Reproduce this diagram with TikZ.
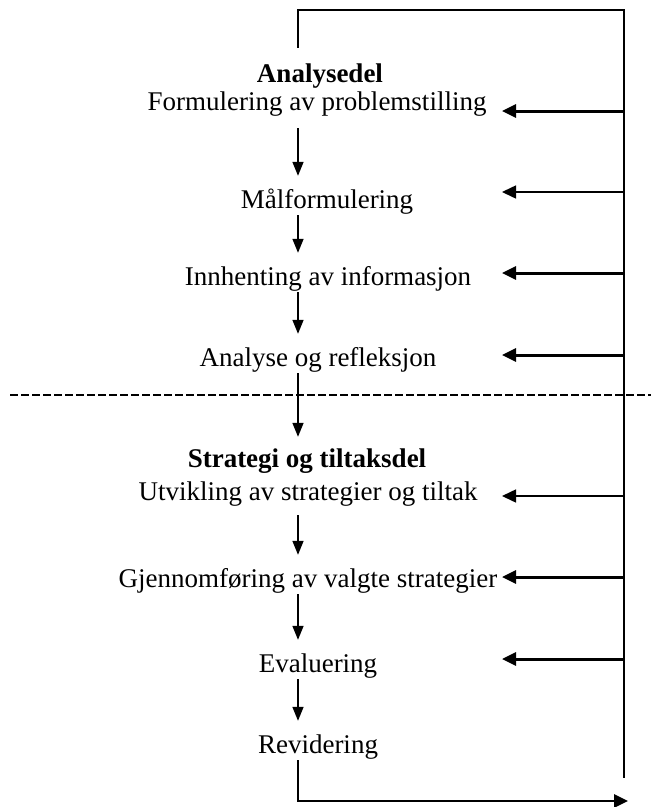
\documentclass[tikz,border=0pt]{standalone}
\usepackage{fontspec}
\setmainfont{Liberation Serif}
\usetikzlibrary{arrows.meta}
\begin{document}
\begin{tikzpicture}[x=1pt,y=-1pt,
  lbl/.style={anchor=base,inner xsep=2pt,inner ysep=1pt,text height=18pt,text depth=6pt,font=\fontsize{27}{30}\selectfont},
  hdr/.style={lbl,font=\fontsize{27}{30}\selectfont\bfseries},
  frame/.style={line width=1.8pt},
  down/.style={line width=1.6pt,-{Triangle[length=14pt,width=11pt]},shorten >=13pt},
  fbthick/.style={line width=3pt,-{Triangle[length=14pt,width=13pt]}},
  fbthin/.style={line width=1.5pt,-{Triangle[length=14pt,width=13pt]}},
  sep/.style={line width=2.6pt,dash pattern=on 8pt off 3pt}]
\useasboundingbox (0,0) rectangle (651,807);
\fill[white] (0,0) rectangle (651,807);
% axis and right line
\coordinate (X) at (298,0);
\coordinate (tr) at (624,10);
\coordinate (br) at (624,778);
\coordinate (out) at (628,801);
% nodes
\node[hdr] (a0) at (320,82) {Analysedel};
\node[lbl] (a1) at (317,110) {Formulering av problemstilling};
\node[lbl] (a2) at (327,208) {Målformulering};
\node[lbl] (a3) at (328,285) {Innhenting av informasjon};
\node[lbl] (a4) at (318,366) {Analyse og refleksjon};
\node[hdr] (s0) at (307,467) {Strategi og tiltaksdel};
\node[lbl] (s1) at (308,500) {Utvikling av strategier og tiltak};
\node[lbl] (s2) at (308,587) {Gjennomføring av valgte strategier};
\node[lbl] (s3) at (318,672) {Evaluering};
\node[lbl] (s4) at (318,753) {Revidering};
% separator
\coordinate (dl) at (10,395);
\coordinate (dr) at (651,395);
\draw[sep] (dl) -- (dr);
% frame
\draw[frame] ([yshift=15pt]a0.north -| X) |- (tr) -- (br);
\draw[line width=2.8pt,-{Triangle[length=14pt,width=13pt]}] (s4.south -| X) |- (out);
% downward arrows
\draw[down,shorten <=11pt] (a1.south -| X) -- (a2.north -| X);
\draw[down] (a2.south -| X) -- (a3.north -| X);
\draw[down] (a3.south -| X) -- (a4.north -| X);
\draw[down,shorten >=11pt] (a4.south -| X) -- (s0.north -| X);
\draw[down,shorten <=8pt] (s1.south -| X) -- (s2.north -| X);
\draw[down] (s2.south -| X) -- (s3.north -| X);
\draw[down] (s3.south -| X) -- (s4.north -| X);
% feedback arrows
\foreach \n/\y in {1/111,2/192,3/273,4/355,5/496,6/577,7/659}{
  \coordinate (r\n) at (624,\y);
  \coordinate (t\n) at (502,\y);
}
\draw[fbthick] (r1) -- (t1);
\draw[fbthin] (r2) -- (t2);
\draw[fbthick] (r3) -- (t3);
\draw[fbthick] (r4) -- (t4);
\draw[fbthin] (r5) -- (t5);
\draw[fbthick] (r6) -- (t6);
\draw[fbthick] (r7) -- (t7);
\end{tikzpicture}
\end{document}
